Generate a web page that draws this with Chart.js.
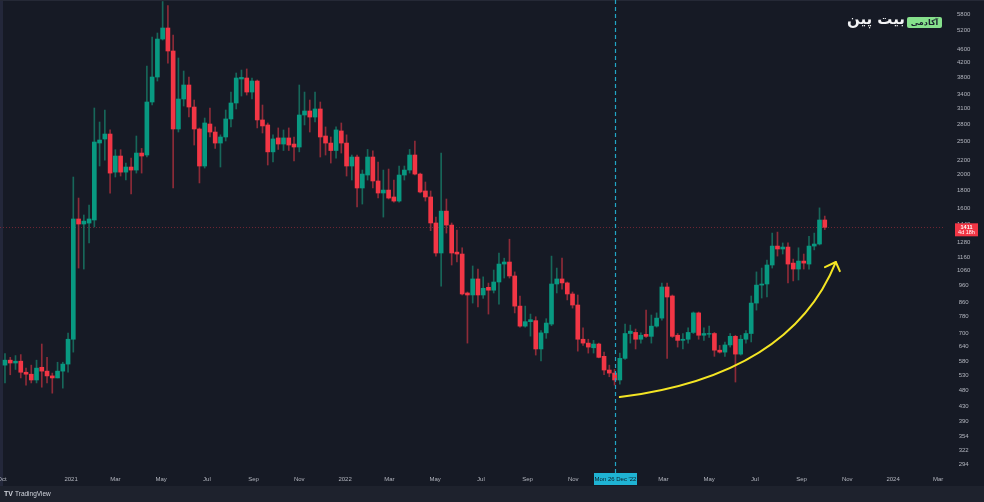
<!DOCTYPE html>
<html><head><meta charset="utf-8">
<script src="https://cdn.jsdelivr.net/npm/chart.js@4.4.1/dist/chart.umd.min.js"></script>
<style>html,body{margin:0;padding:0;background:#161a25;overflow:hidden}canvas{display:block}</style>
</head><body><canvas id="c" width="984" height="502"></canvas>
<script>
// ---- data (weekly candles starting Mon 5 Oct 2020) ----
const startDate = '2020-10-05';
const opens = [566,585,574,581,540,533,513,558,544,527,520,544,570,672,1491,1442,1451,1481,2467,2533,
2618,2034,2263,2034,2104,2062,2308,2278,3237,3820,4913,5286,4539,2707,3302,3623,3131,2707,2118,2798,
2653,2466,2567,2893,3216,3770,3795,3458,3720,2874,2780,2326,2551,2450,2551,2450,2402,2970,3050,2930,
3091,2584,2466,2347,2672,2466,2118,2248,1831,1995,2248,1918,1771,1806,1725,1679,1995,2062,2278,2008,
1795,1725,1452,1190,1571,1432,1197,1182,913,901,1002,901,948,930,982,1106,1121,1022,837,733,
755,760,630,701,743,969,1002,976,907,843,672,655,635,651,600,548,537,513,592,698,
703,672,694,685,733,773,950,895,690,667,672,703,800,690,695,698,625,617,647,685,
609,672,698,854,962,969,1099,1246,1222,1238,1113,1070,1128,1106,1246,1263,1481];
const highs = [611,596,603,607,555,566,585,651,596,537,577,577,700,1969,1713,1531,1635,3111,2835,3070,
2690,2360,2360,2160,2232,2584,2380,4109,4980,5114,6300,6130,5046,4333,3975,3820,3280,2726,2911,3111,
2744,2604,3070,3458,3923,4001,4030,3795,3745,3173,2817,2604,2726,2690,2726,2567,3623,3458,3280,3458,
3237,2744,2567,2744,2817,2604,2278,2278,2062,2364,2341,2175,2062,2076,1930,2118,2118,2364,2500,2021,
1905,1795,1510,2308,1702,1452,1385,1232,919,1092,1070,1016,975,1063,1190,1150,1304,1050,895,837,
794,780,712,770,1166,1077,1150,982,919,901,725,672,667,655,617,566,550,613,743,738,
719,701,815,789,800,975,975,901,698,698,725,805,805,725,733,703,645,660,698,690,
690,712,895,1050,1077,1135,1358,1367,1272,1272,1143,1232,1182,1330,1358,1605,1520];
const lows = [503,531,550,520,496,503,503,489,503,470,520,486,540,617,1077,1070,1272,1414,2118,2203,
1770,1969,1982,1930,1759,2021,2021,2248,3173,3720,4880,4190,1831,2653,3152,2930,2434,1893,2090,2567,
2380,2104,2500,2744,3091,3368,3390,3302,2726,2636,2132,2175,2364,2347,2347,2189,2326,2780,2653,2837,
2248,2278,2160,2232,2308,1982,1930,1614,1646,1930,1831,1713,1510,1702,1668,1668,1930,2021,1995,1771,
1679,1380,1166,956,1358,1099,1121,901,655,854,832,881,794,913,848,1008,1008,800,728,728,
686,605,582,676,735,913,936,872,826,621,645,613,613,594,531,524,496,499,588,655,
630,655,680,655,728,762,592,680,638,630,655,698,672,667,680,600,613,600,638,506,
605,655,660,815,883,889,1077,1166,1182,976,989,995,1070,1070,1215,1255,1390];
const closes = [585,574,581,540,533,513,555,544,527,520,544,570,672,1491,1442,1470,1491,2483,2516,2618,
2021,2263,2034,2104,2062,2308,2263,3237,3820,4913,5286,4539,2707,3302,3623,3131,2707,2118,2817,2653,
2466,2567,2893,3216,3795,3810,3458,3720,2874,2762,2326,2534,2450,2551,2434,2402,2970,3050,2930,3091,
2567,2466,2347,2690,2466,2118,2248,1831,2008,2248,1918,1771,1806,1713,1679,1995,2062,2278,2008,1783,
1725,1452,1190,1571,1432,1190,1182,907,901,1002,901,942,930,982,1106,1121,1022,837,733,755,
765,630,701,748,969,1002,976,907,843,672,655,638,651,596,548,537,513,592,698,709,
672,690,685,733,773,950,889,685,667,672,703,800,690,698,698,625,617,647,685,609,
672,698,854,962,969,1099,1246,1222,1238,1106,1070,1128,1113,1246,1263,1481,1411];
const yTickValues = [294,322,354,390,430,480,530,580,640,700,780,860,960,1060,1160,1280,1440,1600,1800,2000,2200,2500,2800,3100,3400,3800,4200,4600,5200,5800];
const xTickDates = ['2020-10-01','2021-01-01','2021-03-01','2021-05-01','2021-07-01','2021-09-01','2021-11-01',
'2022-01-01','2022-03-01','2022-05-01','2022-07-01','2022-09-01','2022-11-01',
'2023-01-01','2023-03-01','2023-05-01','2023-07-01','2023-09-01','2023-11-01','2024-01-01','2024-03-01'];
const xTickLabels = ['Oct','2021','Mar','May','Jul','Sep','Nov','2022','Mar','May','Jul','Sep','Nov','2023','Mar','May','Jul','Sep','Nov','2024','Mar'];
const crosshairDate = '2022-12-26';
const crosshairLabel = "Mon 26 Dec '22";
const lastPrice = 1411;
const countdownLabel = '4d 18h';
const arrowStart = [117.0, 458];   // [week index, price]
const arrowControl = [149.4, 529];
const arrowEnd = [158.1, 1121];
const logoMain = 'بیت پین';
const logoBadge = 'آکادمی';
const brand = 'TradingView';

// ---- helpers ----
const WEEK = 7 * 864e5;
const weekIndex = d => (Date.parse(d) - Date.parse(startDate)) / WEEK;
const xTickPos = xTickDates.map(weekIndex);
const UP = '#089981', DOWN = '#f23645', UPW = '#17675a', DOWNW = '#8e2b38';
const isUp = i => closes[i] >= opens[i];
const bodies = opens.map((o, i) => ({x: i, y: [o, closes[i]]}));
const wicks = highs.map((h, i) => ({x: i, y: [lows[i], h]}));
const FONT = 'Liberation Sans, Arial, sans-serif';

const deco = {
  id: 'deco',
  beforeDraw(chart) {
    const c = chart.ctx;
    c.save();
    c.fillStyle = '#161a25'; c.fillRect(0, 0, 984, 502);
    c.fillStyle = '#1e222d'; c.fillRect(0, 486, 984, 16);
    c.fillStyle = '#23273a'; c.fillRect(0, 0, 3, 486);
    c.fillStyle = '#252936'; c.fillRect(0, 0, 984, 1);
    c.restore();
  },
  beforeDatasetsDraw(chart) {
    const c = chart.ctx, ys = chart.scales.y, a = chart.chartArea;
    const py = Math.round(ys.getPixelForValue(lastPrice)) + 0.5;
    c.save();
    c.strokeStyle = 'rgba(242,54,69,0.4)'; c.lineWidth = 1; c.setLineDash([1, 2]);
    c.beginPath(); c.moveTo(a.left, py); c.lineTo(a.right, py); c.stroke();
    c.restore();
  },
  afterDraw(chart) {
    const c = chart.ctx, xs = chart.scales.x, ys = chart.scales.y, a = chart.chartArea;
    c.save();
    // crosshair
    const cx = Math.round(xs.getPixelForValue(weekIndex(crosshairDate))) + 0.5;
    c.strokeStyle = '#22a6c6'; c.lineWidth = 1.2; c.setLineDash([4, 3]);
    c.beginPath(); c.moveTo(cx, a.top); c.lineTo(cx, 473); c.stroke();
    c.setLineDash([]);
    c.fillStyle = '#1fb3d3'; c.fillRect(cx - 21.5, 473, 43, 12);
    c.fillStyle = '#0d1d26'; c.font = '6px ' + FONT; c.textAlign = 'center'; c.textBaseline = 'middle';
    c.fillText(crosshairLabel, cx, 479.5);
    // price label
    const py = ys.getPixelForValue(lastPrice);
    c.fillStyle = '#f23645'; c.fillRect(955, py - 4, 23, 13);
    c.fillStyle = '#ffffff'; c.font = 'bold 5.5px ' + FONT;
    c.fillText(String(lastPrice), 966.5, py);
    c.font = '5.5px ' + FONT; c.fillText(countdownLabel, 966.5, py + 5.5);
    // arrow
    const sx = xs.getPixelForValue(arrowStart[0]), sy = ys.getPixelForValue(arrowStart[1]);
    const qx = xs.getPixelForValue(arrowControl[0]), qy = ys.getPixelForValue(arrowControl[1]);
    const ex = xs.getPixelForValue(arrowEnd[0]), ey = ys.getPixelForValue(arrowEnd[1]);
    c.strokeStyle = '#f4e524'; c.lineWidth = 2; c.lineCap = 'round'; c.lineJoin = 'round';
    c.beginPath(); c.moveTo(sx, sy); c.quadraticCurveTo(qx, qy, ex, ey); c.stroke();
    const ang = Math.atan2(qy - ey, qx - ex);
    c.beginPath();
    c.moveTo(ex + 12 * Math.cos(ang + 0.75), ey + 12 * Math.sin(ang + 0.75));
    c.lineTo(ex, ey);
    c.lineTo(ex + 10 * Math.cos(ang - 0.8), ey + 10 * Math.sin(ang - 0.8));
    c.stroke();
    // logo
    c.fillStyle = '#86e08c';
    c.beginPath(); c.roundRect ? c.roundRect(907, 17, 35, 11, 2) : c.rect(907, 17, 35, 11); c.fill();
    c.fillStyle = '#1b2230'; c.font = 'bold 8px DejaVu Sans'; c.textAlign = 'center';
    c.fillText(logoBadge, 924.5, 22.5);
    c.fillStyle = '#f2f3f5'; c.font = 'bold 15px DejaVu Sans'; c.textAlign = 'right';
    c.fillText(logoMain, 905, 20);
    // brand
    c.fillStyle = '#d1d4dc'; c.textAlign = 'left';
    c.font = 'bold 7px ' + FONT; c.fillText('TV', 4, 494.5);
    c.font = '6.5px ' + FONT; c.fillText(brand, 15, 494.5);
    c.restore();
  }
};

new Chart(document.getElementById('c'), {
  type: 'bar',
  data: {
    datasets: [
      {data: bodies, backgroundColor: ctx => isUp(ctx.dataIndex) ? UP : DOWN, barThickness: 4, grouped: false, borderWidth: 0, order: 0},
      {data: wicks, backgroundColor: ctx => isUp(ctx.dataIndex) ? UPW : DOWNW, barThickness: 1, grouped: false, borderWidth: 0, order: 1}
    ]
  },
  options: {
    responsive: false, animation: false, devicePixelRatio: 1,
    layout: {padding: {left: 0, right: 0, top: 0, bottom: 16}},
    plugins: {legend: {display: false}, tooltip: {enabled: false}},
    scales: {
      x: {
        type: 'linear', min: -0.951, max: 178.88, bounds: 'data', offset: false,
        grid: {display: false, drawTicks: false}, border: {display: false},
        ticks: {color: '#b2b5be', font: {size: 6, family: FONT}, padding: 6, maxRotation: 0, autoSkip: false,
          callback: (v, i) => xTickLabels[i]},
        afterBuildTicks: s => { s.ticks = xTickPos.map(v => ({value: v})); },
        afterFit: s => { s.height = 16; s.paddingLeft = 0; s.paddingRight = 0; }
      },
      y: {
        type: 'logarithmic', position: 'right', min: 282.5, max: 6364, bounds: 'data',
        grid: {display: false, drawTicks: false}, border: {display: false},
        ticks: {color: '#b2b5be', font: {size: 6, family: FONT}, padding: 12, crossAlign: 'center', autoSkip: false,
          callback: v => String(v)},
        afterBuildTicks: s => { s.ticks = yTickValues.map(v => ({value: v})); },
        afterFit: s => { s.width = 39; s.paddingTop = 0; s.paddingBottom = 0; }
      }
    }
  },
  plugins: [deco]
});
</script>
</body></html>
